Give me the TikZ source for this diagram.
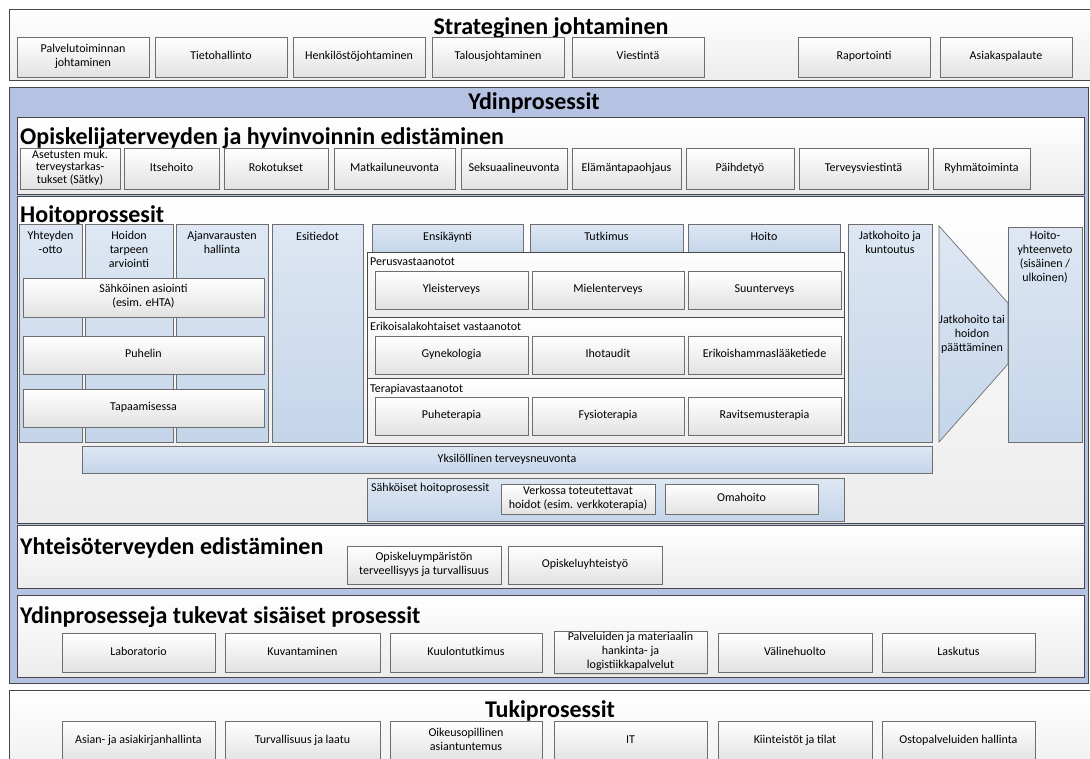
\documentclass[tikz,border=0pt]{standalone}
\usepackage{fontspec}
\setmainfont{Carlito}
\usetikzlibrary{shadows}

\definecolor{ydinblue}{RGB}{182,194,226}
\definecolor{blueA}{RGB}{222,231,243}
\definecolor{blueB}{RGB}{196,213,234}
\definecolor{framegray}{RGB}{236,236,236}
\definecolor{boxgray}{RGB}{226,226,226}
\definecolor{frameline}{RGB}{72,72,72}
\definecolor{boxline}{RGB}{110,110,110}

\tikzset{
  areabox/.style={draw=frameline,line width=0.9pt,top color=white,bottom color=framegray},
  procbox/.style={draw=boxline,line width=0.7pt,top color=white,bottom color=boxgray,
    align=center,inner sep=1pt,font=\fontsize{12}{14}\selectfont,
    execute at begin node=\strut,execute at end node=\strut,
    drop shadow={shadow xshift=1.2pt,shadow yshift=-1.2pt,opacity=0.25}},
  bluebox/.style={procbox,top color=blueA,bottom color=blueB},
  txt/.style={align=center,inner sep=1pt,font=\fontsize{12}{14}\selectfont,
    execute at begin node=\strut,execute at end node=\strut},
  headtitle/.style={inner sep=0pt,font=\fontsize{24}{26}\selectfont\bfseries}
}

\begin{document}
\begin{tikzpicture}[x=1pt,y=-1pt]
  \useasboundingbox (0,0) rectangle (1090,758);
  \clip (0,0) rectangle (1090,758);

  % Strateginen johtaminen
  \draw[areabox] (9,9) rectangle (1100,80);
  \node[headtitle,anchor=base] (strat) at (551,34) {Strateginen johtaminen};
  \foreach \a/\b/\nm/\t in {17/149/palvelu/{Palvelutoiminnan\\johtaminen},155/287/tieto/Tietohallinto,
      293/425/henkilosto/Henkilöstöjohtaminen,432/564/talous/Talousjohtaminen,572/704/viestinta/Viestintä,
      798/930/raportointi/Raportointi,940/1072/palaute/Asiakaspalaute}
    \node[procbox,minimum width={(\b-\a)*1pt},minimum height=40pt] (\nm) at ({(\a+\b)/2},57) {\t};

  % Ydinprosessit
  \draw[draw=frameline,line width=0.9pt,fill=ydinblue] (9,87) rectangle (1088,683);
  \node[headtitle,anchor=base] (ydin) at (534,109) {Ydinprosessit};

  % Opiskelijaterveyden ja hyvinvoinnin edistaminen
  \draw[areabox] (17,117) rectangle (1084,194);
  \foreach \a/\b/\nm/\t in {124/219/itsehoito/Itsehoito,
      224/328/rokotus/Rokotukset,334/455/matkailu/Matkailuneuvonta,461/567/seksuaali/Seksuaalineuvonta,
      572/681/elamantapa/Elämäntapaohjaus,686/794/paihde/Päihdetyö,799/928/terveysviestinta/Terveysviestintä,
      933/1030/ryhma/Ryhmätoiminta}
    \node[procbox,minimum width={(\b-\a)*1pt},minimum height=41pt] (\nm) at ({(\a+\b)/2},168.5) {\t};
  \node[procbox,minimum width=100pt,minimum height=41pt,font=\fontsize{12}{12.5}\selectfont]
    (satky) at (70,168.5) {Asetusten muk.\\terveystarkas-\\tukset (Sätky)};
  \node[headtitle,anchor=base west] (opisk) at (20,144) {Opiskelijaterveyden ja hyvinvoinnin edistäminen};

  % Hoitoprosessit
  \draw[areabox] (17,196) rectangle (1084,523);
  \node[headtitle,anchor=base west] (hoito) at (20,222) {Hoitoprossesit};
  \foreach \a/\b/\nm/\t in {19/82/yhteys/{Yhteyden\\-otto},85/173/tarve/{Hoidon\\tarpeen\\arviointi},
      176/268/ajanvaraus/{Ajanvarausten\\hallinta},272/363/esitiedot/Esitiedot,848/932/jatko/{Jatkohoito ja\\kuntoutus}}{
    \node[bluebox,minimum width={(\b-\a)*1pt},minimum height=218pt] (\nm) at ({(\a+\b)/2},333) {};
    \node[txt,anchor=north] (\nm-t) at ([yshift=-6pt]\nm.north) {\t};
  }
  \foreach \y/\h/\nm/\t in {297.5/39/easiointi/{Sähköinen asiointi\\(esim. eHTA)},355/38/puhelin/Puhelin,408/38/tapaaminen/Tapaamisessa}
    \node[procbox,minimum width=241pt,minimum height=\h pt] (\nm) at (143.5,\y) {\t};

  % vastaanotot
  \foreach \a/\b/\nm/\t in {372/523/ensi/Ensikäynti,530/683/tutkimus/Tutkimus,688/840/hoitovaihe/Hoito}
    \node[bluebox,minimum width={(\b-\a)*1pt},minimum height=28pt] (\nm) at ({(\a+\b)/2},238) {\t};
  \draw[areabox] (367,252) rectangle (844,317);
  \draw[areabox] (367,317) rectangle (844,378);
  \draw[areabox] (367,378) rectangle (844,443);
  \node[txt,anchor=west] (perus) at (369,263) {Perusvastaanotot};
  \node[txt,anchor=west] (erikois) at (369,328) {Erikoisalakohtaiset vastaanotot};
  \node[txt,anchor=west] (terapia) at (369,390) {Terapiavastaanotot};
  \foreach \y/\p/\q/\r in {290/yleis/miele/suu,355/gyne/iho/hammas,416/puhe/fysio/ravitsemus}{
    \node[procbox,minimum width=153pt,minimum height=38pt] (\p) at (451.5,\y) {};
    \node[procbox,minimum width=152pt,minimum height=38pt] (\q) at (608,\y) {};
    \node[procbox,minimum width=153pt,minimum height=38pt] (\r) at (764.5,\y) {};
  }
  \node[txt] at (yleis) {Yleisterveys};
  \node[txt] at (miele) {Mielenterveys};
  \node[txt] at (suu) {Suunterveys};
  \node[txt] at (gyne) {Gynekologia};
  \node[txt] at (iho) {Ihotaudit};
  \node[txt] at (hammas) {Erikoishammaslääketiede};
  \node[txt] at (puhe) {Puheterapia};
  \node[txt] at (fysio) {Fysioterapia};
  \node[txt] at (ravitsemus) {Ravitsemusterapia};

  % jatkohoito ja yhteenveto
  \draw[draw=boxline,line width=0.7pt,top color=blueA,bottom color=blueB]
    (939,226) -- (1008,303) -- (1008,364) -- (939,442) -- cycle;
  \node[txt] (paatos) at (972,335) {Jatkohoito tai\\hoidon\\päättäminen};
  \node[bluebox,minimum width=74pt,minimum height=215pt] (yhteenveto) at (1045,334.5) {};
  \node[txt,anchor=north] (yhteenveto-t) at ([yshift=-3pt]yhteenveto.north) {Hoito-\\yhteenveto\\(sisäinen /\\ulkoinen)};

  \node[bluebox,minimum width=850pt,minimum height=27pt] (neuvonta) at (507,459.5) {Yksilöllinen terveysneuvonta};
  \node[bluebox,minimum width=477pt,minimum height=43pt] (sahkoiset) at (605.5,499.5) {};
  \node[txt,anchor=west] (sahkoiset-t) at (370,489) {Sähköiset hoitoprosessit};
  \node[procbox,minimum width=154pt,minimum height=30pt] (verkko) at (578,499) {Verkossa toteutettavat\\hoidot (esim. verkkoterapia)};
  \node[procbox,minimum width=153pt,minimum height=30pt] (omahoito) at (741.5,499) {Omahoito};

  % Yhteisoterveyden edistaminen
  \draw[areabox] (17,525) rectangle (1084,588);
  \node[headtitle,anchor=base west] (yhteiso) at (20,554) {Yhteisöterveyden edistäminen};
  \node[procbox,minimum width=154pt,minimum height=38pt] (ymparisto) at (424,565) {Opiskeluympäristön\\terveellisyys ja turvallisuus};
  \node[procbox,minimum width=154pt,minimum height=38pt] (yhteistyo) at (585,565) {Opiskeluyhteistyö};

  % sisaiset prosessit
  \draw[areabox] (17,595) rectangle (1084,677);
  \node[headtitle,anchor=base west] (sisaiset) at (20,623) {Ydinprosesseja tukevat sisäiset prosessit};
  \foreach \a/\b/\nm/\t in {62/215/labra/Laboratorio,225/380/kuvantaminen/Kuvantaminen,390/542/kuulo/Kuulontutkimus,
      554/707/logistiikka/{Palveluiden ja materiaalin\\hankinta- ja\\logistiikkapalvelut},718/872/valine/Välinehuolto,
      882/1035/laskutus/Laskutus}
    \node[procbox,minimum width={(\b-\a)*1pt},minimum height=39pt] (\nm) at ({(\a+\b)/2},652.5) {\t};

  % Tukiprosessit
  \draw[areabox] (9,690) rectangle (1100,790);
  \node[headtitle,anchor=base] (tuki) at (550,717) {Tukiprosessit};
  \foreach \a/\b/\nm/\t in {62/215/asiakirja/Asian- ja asiakirjanhallinta,225/380/laatu/Turvallisuus ja laatu,
      390/542/oikeus/{Oikeusopillinen\\asiantuntemus},554/707/it/IT,718/872/tilat/Kiinteistöt ja tilat,
      882/1035/osto/Ostopalveluiden hallinta}
    \node[procbox,minimum width={(\b-\a)*1pt},minimum height=40pt] (\nm) at ({(\a+\b)/2},741) {\t};
\end{tikzpicture}
\end{document}
